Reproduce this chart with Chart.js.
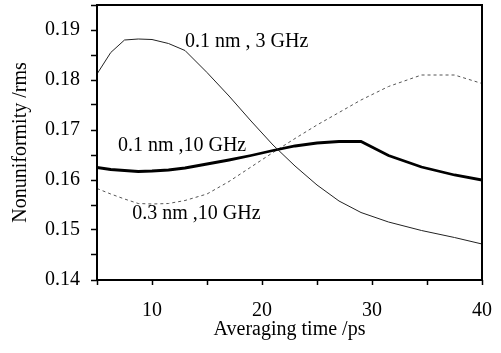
<!DOCTYPE html>
<html>
<head>
<meta charset="utf-8">
<script src="https://cdn.jsdelivr.net/npm/chart.js@4"></script>
<style>
  html, body { margin: 0; padding: 0; background: #fff; }
</style>
</head>
<body>
<canvas id="chart" width="501" height="353"></canvas>
<script>
// Data.
const times = [5, 6.25, 7.5, 8.75, 10, 11.5, 13, 15, 17, 19, 21, 23, 25, 27, 29, 31.5, 34.5, 37.5, 40];
const nm01GHz3 = [0.1812, 0.1855, 0.1880, 0.1882, 0.1881, 0.1873, 0.1859, 0.1815, 0.1768, 0.1718, 0.1670, 0.1628, 0.1590, 0.1558, 0.1535, 0.1516, 0.1499, 0.1485, 0.1472];
const nm01GHz10 = [0.1625, 0.1621, 0.1619, 0.1617, 0.1618, 0.1620, 0.1624, 0.1632, 0.1640, 0.1649, 0.1659, 0.1668, 0.1674, 0.1677, 0.1677, 0.1649, 0.1626, 0.1610, 0.1600];
const nm03GHz10 = [0.1583, 0.1572, 0.1562, 0.1553, 0.1552, 0.1553, 0.1559, 0.1572, 0.1597, 0.1626, 0.1655, 0.1683, 0.1710, 0.1735, 0.1760, 0.1787, 0.1810, 0.1810, 0.1793];
const seriesNames = ['0.1 nm , 3 GHz', '0.1 nm ,10 GHz', '0.3 nm ,10 GHz'];
// Label anchors in data units: [time, value].
const labelAnchors = [[13.0, 0.1876], [6.9, 0.1668], [8.2, 0.1532]];

const FONT = '"Liberation Serif", "Times New Roman", serif';
const FONT_SIZE = 20;

function points(ys) {
  return times.map((t, i) => ({x: t, y: ys[i]}));
}

const framePlugin = {
  id: 'frame',
  afterDatasetsDraw(chart) {
    const {ctx, chartArea: a} = chart;
    ctx.save();
    ctx.strokeStyle = '#000';
    ctx.lineWidth = 2;
    ctx.strokeRect(a.left, a.top, a.right - a.left, a.bottom - a.top);
    ctx.restore();
  },
};

const labelPlugin = {
  id: 'seriesLabels',
  afterDatasetsDraw(chart) {
    const {ctx, scales} = chart;
    ctx.save();
    ctx.fillStyle = '#000';
    ctx.font = FONT_SIZE + 'px ' + FONT;
    ctx.textAlign = 'left';
    ctx.textBaseline = 'middle';
    seriesNames.forEach((name, i) => {
      const [t, v] = labelAnchors[i];
      ctx.fillText(name, scales.x.getPixelForValue(t), scales.y.getPixelForValue(v));
    });
    ctx.restore();
  },
};

new Chart(document.getElementById('chart'), {
  type: 'line',
  data: {
    datasets: [
      {
        label: seriesNames[0],
        data: points(nm01GHz3),
        borderColor: '#222',
        borderWidth: 1,
      },
      {
        label: seriesNames[1],
        data: points(nm01GHz10),
        borderColor: '#000',
        borderWidth: 2.8,
      },
      {
        label: seriesNames[2],
        data: points(nm03GHz10),
        borderColor: '#555',
        borderWidth: 1,
        borderDash: [3, 3],
      },
    ],
  },
  options: {
    responsive: false,
    animation: false,
    devicePixelRatio: 1,
    layout: {padding: {left: 0, right: 19, top: 5, bottom: 0}},
    elements: {point: {radius: 0}, line: {tension: 0, fill: false}},
    plugins: {legend: {display: false}, tooltip: {enabled: false}},
    scales: {
      x: {
        type: 'linear',
        min: 5,
        max: 40,
        afterFit: (scale) => {
          scale.height = 73;
          scale.paddingLeft = 0;
          scale.paddingRight = 0;
        },
        border: {display: false},
        grid: {drawOnChartArea: false, drawTicks: true, tickLength: 5, tickColor: '#000', tickWidth: 1.5},
        ticks: {
          stepSize: 5,
          autoSkip: false,
          maxRotation: 0,
          padding: 14,
          color: '#000',
          font: {family: FONT, size: FONT_SIZE},
          callback: (v) => (v % 10 === 0 ? String(v) : ''),
        },
        title: {
          display: true,
          text: 'Averaging time /ps',
          color: '#000',
          font: {family: FONT, size: FONT_SIZE},
          padding: {top: 0, bottom: 11},
        },
      },
      y: {
        min: 0.14,
        max: 0.195,
        afterFit: (scale) => {
          scale.width = 97;
          scale.paddingTop = 0;
          scale.paddingBottom = 0;
        },
        border: {display: false},
        grid: {drawOnChartArea: false, drawTicks: true, tickLength: 6, tickColor: '#000', tickWidth: 1.5},
        ticks: {
          stepSize: 0.005,
          autoSkip: false,
          padding: 11,
          color: '#000',
          font: {family: FONT, size: FONT_SIZE},
          callback: (v) => (Math.round(v * 1000) % 10 === 0 ? v.toFixed(2) : ''),
        },
        title: {
          display: true,
          text: 'Nonuniformity /rms',
          color: '#000',
          font: {family: FONT, size: FONT_SIZE},
          padding: {top: 9, bottom: 0},
        },
      },
    },
  },
  plugins: [framePlugin, labelPlugin],
});
</script>
</body>
</html>
